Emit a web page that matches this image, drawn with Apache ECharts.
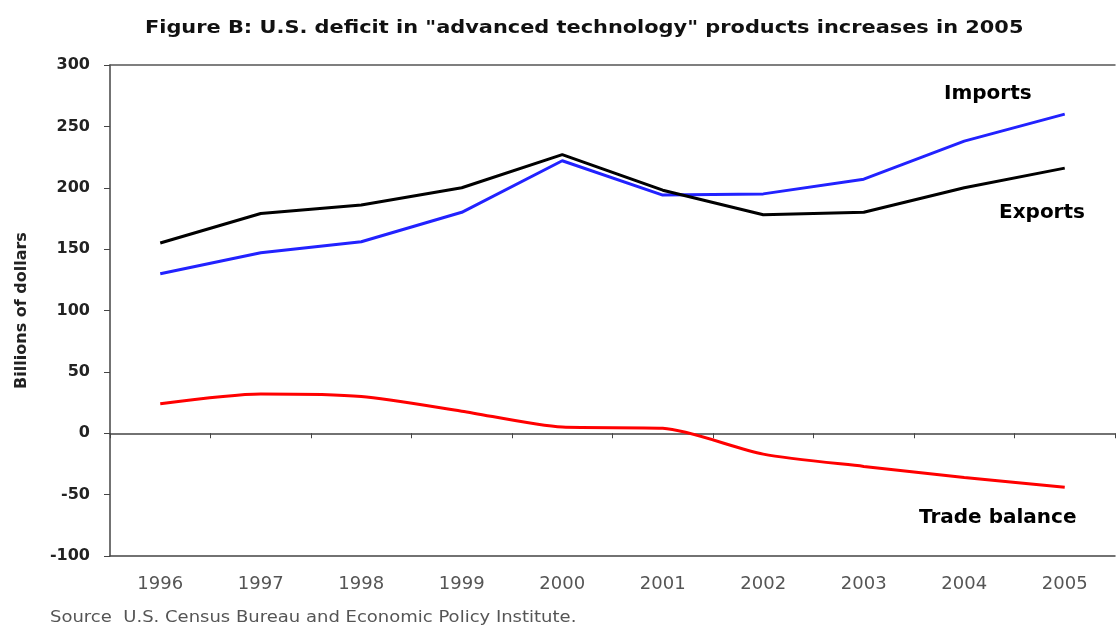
<!DOCTYPE html>
<html><head><meta charset="utf-8">
<script src="https://cdn.jsdelivr.net/npm/echarts@6/dist/echarts.min.js"></script>
<style>html,body{margin:0;padding:0;background:#fff}#c{width:1117px;height:628px}</style>
</head><body><div id="c"></div>
<script>
const years = ['1996','1997','1998','1999','2000','2001','2002','2003','2004','2005'];
const imports = [130, 147, 156, 180, 222, 194, 195, 207, 238, 260];
const exports = [155, 179, 186, 200, 227, 198, 178, 180, 200, 216];
const balance = [24, 32, 30, 18, 5, 4, -17, -27, -36, -44];
const yTicks = [-100, -50, 0, 50, 100, 150, 200, 250, 300];
const seriesLabels = ['Imports', 'Exports', 'Trade balance'];
const titleText = 'Figure B: U.S. deficit in "advanced technology" products increases in 2005';
const sourceText = 'Source  U.S. Census Bureau and Economic Policy Institute.';

const chart = echarts.init(document.getElementById('c'));
const F = 'DejaVu Sans';
chart.setOption({
  animation: false,
  backgroundColor: '#fff',
  grid: { left: 110, right: 2, top: 65, bottom: 72 },
  xAxis: [
    { type: 'category', data: years, position: 'bottom',
      axisLine: { onZero: false, lineStyle: { color: '#444', width: 1.5 } },
      axisTick: { show: false },
      axisLabel: { fontFamily: F, fontSize: 18, color: '#555', margin: 19 } },
    { type: 'category', data: years, position: 'bottom',
      axisLine: { onZero: true, lineStyle: { color: '#444', width: 1.5 } },
      axisTick: { show: true, length: 5, lineStyle: { color: '#444' } },
      axisLabel: { show: false } },
    { type: 'category', data: years, position: 'top',
      axisLine: { onZero: false, lineStyle: { color: '#555', width: 1.5 } },
      axisTick: { show: false }, axisLabel: { show: false } }
  ],
  yAxis: {
    type: 'value', min: yTicks[0], max: yTicks[yTicks.length - 1], interval: 50,
    name: 'Billions of dollars', nameLocation: 'middle', nameGap: 80, nameRotate: 90,
    nameTextStyle: { fontFamily: F, fontSize: 16, fontWeight: 'bold', color: '#222' },
    axisLine: { show: true, lineStyle: { color: '#444', width: 1.5 } },
    axisTick: { show: true, length: 6, lineStyle: { color: '#444' } },
    axisLabel: { fontFamily: F, fontSize: 16, fontWeight: 'bold', color: '#222', margin: 20 },
    splitLine: { show: false }
  },
  series: [
    { name: seriesLabels[0], type: 'line', data: imports, symbol: 'none',
      lineStyle: { color: '#2222ff', width: 3 } },
    { name: seriesLabels[1], type: 'line', data: exports, symbol: 'none',
      lineStyle: { color: '#000', width: 3 } },
    { name: seriesLabels[2], type: 'line', data: balance, symbol: 'none', smooth: 0.25,
      lineStyle: { color: '#ff0000', width: 3 } }
  ],
  graphic: [
    { type: 'text', x: 145, y: 19, scaleX: 1.16, style: { text: titleText, font: 'bold 18px "DejaVu Sans"', fill: '#111' } },
    { type: 'text', left: 944, top: 84, style: { text: seriesLabels[0], font: 'bold 20px "DejaVu Sans"', fill: '#000' } },
    { type: 'text', left: 999, top: 203, style: { text: seriesLabels[1], font: 'bold 20px "DejaVu Sans"', fill: '#000' } },
    { type: 'text', left: 919, top: 508, style: { text: seriesLabels[2], font: 'bold 20px "DejaVu Sans"', fill: '#000' } },
    { type: 'text', x: 50, y: 611, scaleX: 1.2, style: { text: sourceText, font: '15px "DejaVu Sans"', fill: '#555' } }
  ]
});
</script></body></html>
